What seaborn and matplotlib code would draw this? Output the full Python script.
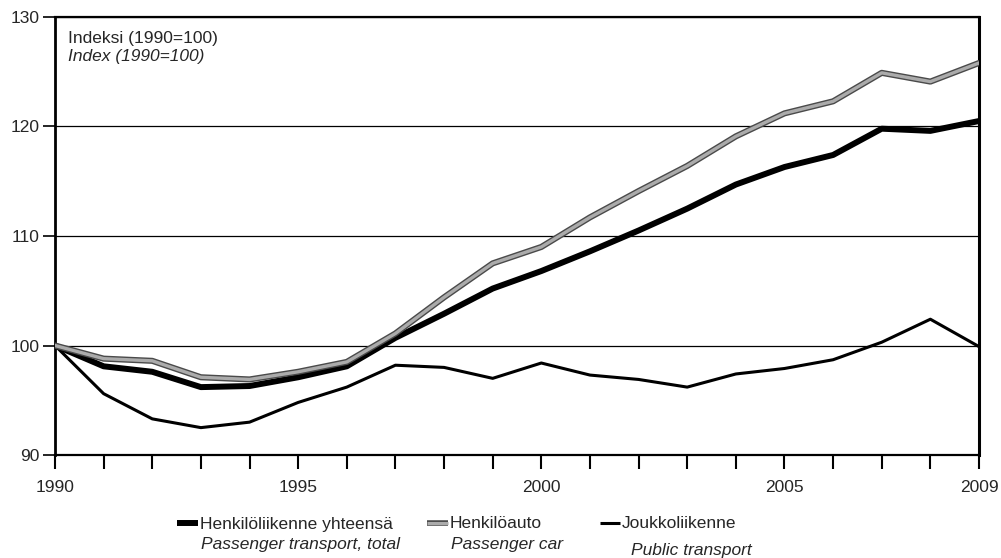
import matplotlib
matplotlib.use("Agg")
import matplotlib.pyplot as plt
import matplotlib.patheffects as pe
from matplotlib.lines import Line2D
import seaborn as sns
import pandas as pd

years = list(range(1990, 2010))
total = [100, 98.1, 97.6, 96.2, 96.3, 97.1, 98.1, 100.7, 102.9, 105.2,
         106.8, 108.6, 110.5, 112.5, 114.7, 116.3, 117.4, 119.8, 119.6, 120.5]
car = [100, 98.8, 98.6, 97.1, 96.9, 97.6, 98.5, 101.1, 104.4, 107.5,
       109.0, 111.7, 114.1, 116.4, 119.1, 121.2, 122.3, 124.9, 124.1, 125.8]
public = [100, 95.6, 93.3, 92.5, 93.0, 94.8, 96.2, 98.2, 98.0, 97.0,
          98.4, 97.3, 96.9, 96.2, 97.4, 97.9, 98.7, 100.3, 102.4, 99.9]

xtick_labels = ["1990", "1995", "2000", "2005", "2009"]
yticks = [90, 100, 110, 120, 130]
legend_fi = ["Henkilöliikenne yhteensä", "Henkilöauto", "Joukkoliikenne"]
legend_en = ["Passenger transport, total", "Passenger car", "Public transport"]
note_fi = "Indeksi (1990=100)"
note_en = "Index (1990=100)"

sns.set_style("ticks")
plt.rcParams["font.family"] = ["Liberation Sans", "DejaVu Sans"]
FS = 12.5

df = pd.DataFrame({"year": years, "total": total, "car": car, "public": public})

fig = plt.figure(figsize=(10.01, 5.58), dpi=100)
ax = fig.add_axes([55 / 1001, 103 / 558, 924 / 1001, 438 / 558])

CAR_IN = "#ababab"
CAR_OUT = "#4a4a4a"

sns.lineplot(data=df, x="year", y="public", ax=ax, color="black", linewidth=2.2)
sns.lineplot(data=df, x="year", y="total", ax=ax, color="black", linewidth=4.3)
sns.lineplot(data=df, x="year", y="car", ax=ax, color=CAR_IN, linewidth=2.4)
car_line = ax.lines[-1]
car_line.set_path_effects([pe.Stroke(linewidth=4.4, foreground=CAR_OUT), pe.Normal()])
car_line.set_zorder(3)

ax.set_xlim(1990, 2009)
ax.set_ylim(90, 130)
ax.set_xlabel("")
ax.set_ylabel("")
ax.set_xticks(years)
ax.set_xticklabels([str(y) if str(y) in xtick_labels else "" for y in years], fontsize=FS)
ax.set_yticks(yticks)
ax.set_yticklabels([str(v) for v in yticks], fontsize=FS)
ax.tick_params(axis="x", direction="out", length=10, width=1.5, pad=8, color="black")
ax.tick_params(axis="y", direction="out", length=9, width=1.2, pad=2, color="black")
ax.yaxis.grid(True, color="black", linewidth=0.9)
ax.set_axisbelow(True)
for side, lw in [("left", 2.0), ("right", 2.2), ("top", 1.6), ("bottom", 1.6)]:
    ax.spines[side].set_visible(True)
    ax.spines[side].set_linewidth(lw)
    ax.spines[side].set_color("black")


def fy(py):
    return 1 - py / 558


fig.text(68 / 1001, fy(39), note_fi, fontsize=FS, va="center", ha="left")
fig.text(68 / 1001, fy(57), note_en, fontsize=FS, va="center", ha="left", style="italic")

# legend drawn manually below the axes
handles = [
    dict(x0=177, x1=198, lw=4.3, color="black", pe=None),
    dict(x0=427, x1=448, lw=2.2, color=CAR_IN, pe=[pe.Stroke(linewidth=4.0, foreground=CAR_OUT), pe.Normal()]),
    dict(x0=600, x1=620, lw=2.2, color="black", pe=None),
]
text_x = [200, 450, 622]
en_x = [201, 451, 631]
en_y = [545, 545, 550]
for i, h in enumerate(handles):
    ln = Line2D([h["x0"] / 1001, h["x1"] / 1001], [fy(523), fy(523)], transform=fig.transFigure,
                color=h["color"], linewidth=h["lw"], solid_capstyle="butt")
    if h["pe"]:
        ln.set_path_effects(h["pe"])
    fig.add_artist(ln)
    fig.text(text_x[i] / 1001, fy(524), legend_fi[i], fontsize=FS, va="center", ha="left")
    fig.text(en_x[i] / 1001, fy(en_y[i]), legend_en[i], fontsize=FS, va="center", ha="left", style="italic")

fig.savefig("out.png", dpi=100)
